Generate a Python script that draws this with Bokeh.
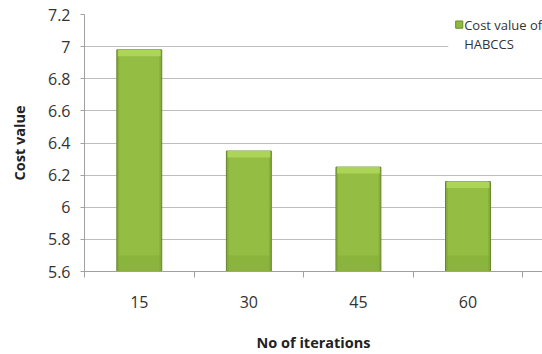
from bokeh.plotting import figure
from bokeh.models import FixedTicker, BoxAnnotation, Range1d, ColumnDataSource
from bokeh.core.properties import value
from bokeh.embed import file_html
from bokeh.resources import INLINE

iterations = ["15", "30", "45", "60"]
cost_values = [6.98, 6.35, 6.25, 6.16]
y_ticks = [5.6, 5.8, 6.0, 6.2, 6.4, 6.6, 6.8, 7.0, 7.2]
y_tick_labels = ["5.6", "5.8", "6", "6.2", "6.4", "6.6", "6.8", "7", "7.2"]
series_name = ["Cost value of", "HABCCS"]

FONT = "Open Sans"
xs = list(range(1, len(iterations) + 1))
base = 5.6

p = figure(width=542, height=354, output_backend="svg", toolbar_location=None,
           x_range=Range1d(0.5, 4.68), y_range=Range1d(5.6, 7.2),
           min_border_left=84, min_border_right=0, min_border_top=14, min_border_bottom=82)
p.outline_line_color = None
p.background_fill_color = "white"

src = ColumnDataSource(dict(x=xs, top=cost_values, bottom=[base] * len(xs),
                            cap=[v - 0.04 for v in cost_values],
                            low=[base + 0.1] * len(xs)))
# bar body with simple bevel/gradient look
p.vbar(x="x", top="top", bottom="bottom", width=0.41, source=src,
       fill_color="#86ad39", line_color="#66862a", line_width=1)
p.vbar(x="x", top="top", bottom="bottom", width=0.37, source=src,
       fill_color="#93bd43", line_color=None)
p.vbar(x="x", top="low", bottom="bottom", width=0.39, source=src,
       fill_color="#7fa434", fill_alpha=0.35, line_color=None)
p.vbar(x="x", top="top", bottom="cap", width=0.39, source=src,
       fill_color="#acd457", line_color=None)

# axes
p.xaxis.ticker = FixedTicker(ticks=xs, minor_ticks=[0.5, 1.5, 2.5, 3.5, 4.5])
p.xaxis.major_label_overrides = {x: lab for x, lab in zip(xs, iterations)}
p.xaxis.major_tick_line_color = None
p.xaxis.minor_tick_line_color = "#a0a0a0"
p.xaxis.minor_tick_out = 6
p.xaxis.minor_tick_in = 0
p.xaxis.axis_line_color = "#a0a0a0"
p.xaxis.major_label_standoff = 18
p.xaxis.axis_label = "No of iterations"
p.xaxis.axis_label_standoff = 22

p.yaxis.ticker = FixedTicker(ticks=y_ticks)
p.yaxis.major_label_overrides = {t: lab for t, lab in zip(y_ticks, y_tick_labels)}
p.yaxis.major_tick_line_color = "#a0a0a0"
p.yaxis.major_tick_out = 4
p.yaxis.major_tick_in = 0
p.yaxis.minor_tick_line_color = None
p.yaxis.axis_line_color = "#a0a0a0"
p.yaxis.major_label_standoff = 10
p.yaxis.axis_label = "Cost value"
p.yaxis.axis_label_standoff = 16

for ax in (p.xaxis, p.yaxis):
    ax.major_label_text_font = FONT
    ax.major_label_text_font_size = "16px"
    ax.major_label_text_color = "#333333"
    ax.axis_label_text_font = FONT
    ax.axis_label_text_font_size = "14.5px"
    ax.axis_label_text_font_style = "bold"
    ax.axis_label_text_color = "#222222"

p.xgrid.grid_line_color = None
p.ygrid.grid_line_color = "#bdbdbd"
p.ygrid.grid_line_width = 1

# legend (manual, multi-line label)
p.add_layout(BoxAnnotation(left=3.82, right=4.68, top=7.2, bottom=6.985,
                           fill_color="white", fill_alpha=1, line_color=None, level="underlay"))
p.rect(x=[3.92], y=[7.137], width=0.065, height=0.045, fill_color="#8fb93f",
       line_color="#6a8c2a")
p.text(x=[3.965, 3.965], y=[7.137, 7.015], text=series_name, text_font=value(FONT),
       text_font_size="13px", text_color="#333333", text_baseline="middle")

open("out.html", "w").write(file_html(p, INLINE))
